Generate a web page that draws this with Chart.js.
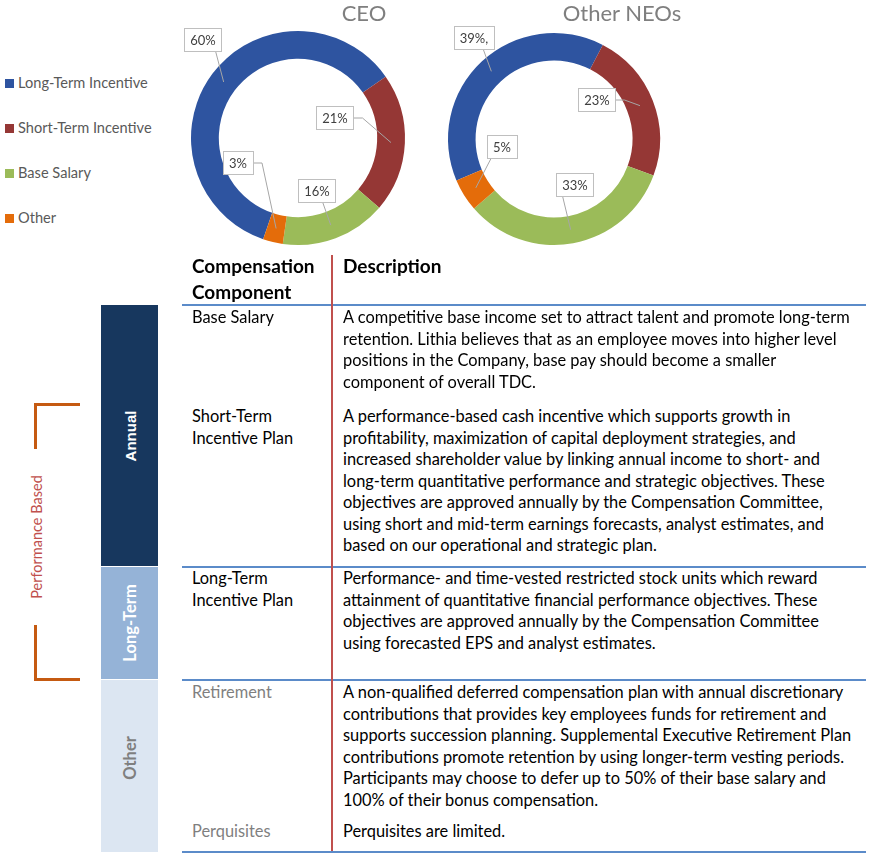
<!DOCTYPE html>
<html>
<head>
<meta charset="utf-8">
<script src="https://cdn.jsdelivr.net/npm/chart.js@4.4.1/dist/chart.umd.min.js"></script>
<style>
  body { margin: 0; background: #fff; }
  #page { position: relative; width: 869px; height: 858px; overflow: hidden; font-family: Lato, 'Open Sans', sans-serif; color: #000; }
  .abs { position: absolute; }
  .title { font-size: 22px; color: #7f7f7f; white-space: nowrap; transform: translateX(-50%); line-height: 26px; }
  .legend-item { left: 5px; font-size: 14.6px; color: #595959; line-height: 18px; white-space: nowrap; }
  .legend-item span { display: inline-block; width: 9px; height: 9px; margin-right: 4px; vertical-align: 0px; }
  .txt { font-size: 16.4px; line-height: 21.5px; white-space: nowrap; }
  .hdr { font-size: 19px; font-weight: bold; line-height: 26px; white-space: nowrap; }
  .gray { color: #7f7f7f; }
  .hline { height: 2px; background: #5b8bc9; left: 182px; width: 684px; }
  .bar { left: 101px; width: 57px; }
  .vlabel { position: absolute; left: 50%; top: 50%; transform: translate(-50%, -50%) rotate(-90deg); white-space: nowrap; font-weight: bold; font-size: 16.5px; }
  .bracket { background: #c55a11; }
</style>
</head>
<body>
<div id="page">
  <canvas id="ceoChart" class="abs" width="260" height="260" style="left:168px;top:8px"></canvas>
  <canvas id="neoChart" class="abs" width="260" height="260" style="left:424px;top:9px"></canvas>
  <div class="abs title" style="left:364px;top:0px">CEO</div>
  <div class="abs title" style="left:622px;top:0px">Other NEOs</div>
  <div id="legend"></div>
  <div id="table"></div>
</div>
<script>
// chart data
const categories = ['Long-Term Incentive', 'Short-Term Incentive', 'Base Salary', 'Other'];
const colors = ['#2e54a0', '#953735', '#9bbb59', '#e46c0a'];
const ceoValues = [60, 21, 16, 3];
const neoValues = [39, 23, 33, 5];
const ceoLabels = ['60%', '21%', '16%', '3%'];
const neoLabels = ['39%,', '23%', '33%', '5%'];

// table text
const headerComponent = ['Compensation', 'Component'];
const headerDescription = 'Description';
const rowComponents = [
  ['Base Salary'],
  ['Short-Term', 'Incentive Plan'],
  ['Long-Term', 'Incentive Plan'],
  ['Retirement'],
  ['Perquisites'],
];
const rowDescriptions = [
  ['A competitive base income set to attract talent and promote long-term',
   'retention. Lithia believes that as an employee moves into higher level',
   'positions in the Company, base pay should become a smaller',
   'component of overall TDC.'],
  ['A performance-based cash incentive which supports growth in',
   'profitability, maximization of capital deployment strategies, and',
   'increased shareholder value by linking annual income to short- and',
   'long-term quantitative performance and strategic objectives. These',
   'objectives are approved annually by the Compensation Committee,',
   'using short and mid-term earnings forecasts, analyst estimates, and',
   'based on our operational and strategic plan.'],
  ['Performance- and time-vested restricted stock units which reward',
   'attainment of quantitative financial performance objectives. These',
   'objectives are approved annually by the Compensation Committee',
   'using forecasted EPS and analyst estimates.'],
  ['A non-qualified deferred compensation plan with annual discretionary',
   'contributions that provides key employees funds for retirement and',
   'supports succession planning. Supplemental Executive Retirement Plan',
   'contributions promote retention by using longer-term vesting periods.',
   'Participants may choose to defer up to 50% of their base salary and',
   '100% of their bonus compensation.'],
  ['Perquisites are limited.'],
];
const rowGray = [false, false, false, true, true];
const rowTops = [306, 405, 567, 681, 820];

const boxLabels = {
  id: 'boxLabels',
  afterDatasetsDraw(chart, args, opts) {
    const { ctx } = chart;
    const meta = chart.getDatasetMeta(0);
    ctx.save();
    ctx.font = '13px Lato, "Open Sans", sans-serif';
    ctx.textAlign = 'center';
    ctx.textBaseline = 'middle';
    meta.data.forEach((arc, i) => {
      const p = arc.tooltipPosition();
      const [ox, oy] = opts.offsets[i];
      const text = opts.texts[i];
      const w = Math.round(ctx.measureText(text).width + 12);
      const h = 23;
      const cx = Math.round(p.x + ox);
      const cy = Math.round(p.y + oy);
      const l = cx - w / 2;
      const r = cx + w / 2;
      const t = cy - h / 2;
      const b = cy + h / 2;

      ctx.strokeStyle = '#a6a6a6';
      ctx.lineWidth = 1;
      ctx.beginPath();
      if (p.y > b + 10 && p.x >= l - 15 && p.x <= r + 15) {
        ctx.moveTo(Math.min(Math.max(p.x - 8, l + 4), r - 4), b);
      } else if (p.x > r) {
        ctx.moveTo(r, cy);
        ctx.lineTo(r + 9, cy);
      } else {
        ctx.moveTo(l, cy);
        ctx.lineTo(l - 9, cy);
      }
      ctx.lineTo(p.x, p.y);
      ctx.stroke();

      ctx.fillStyle = '#fff';
      ctx.fillRect(l, t, w, h);
      ctx.strokeStyle = '#bfbfbf';
      ctx.strokeRect(Math.floor(l) + 0.5, Math.floor(t) + 0.5, w, h);
      ctx.fillStyle = '#404040';
      ctx.fillText(text, cx, cy + 1);
    });
    ctx.restore();
  },
};

const makeDonut = (id, values, texts, rotation, pad, offsets) => new Chart(document.getElementById(id), {
  type: 'doughnut',
  data: {
    labels: categories,
    datasets: [{ data: values, backgroundColor: colors, borderWidth: 0 }],
  },
  options: {
    responsive: false,
    animation: false,
    rotation,
    cutout: '74%',
    layout: { padding: pad },
    plugins: {
      legend: { display: false },
      tooltip: { enabled: false },
      boxLabels: { texts, offsets },
    },
  },
  plugins: [boxLabels],
});

makeDonut('ceoChart', ceoValues, ceoLabels, 199, 23, [[-21, -42], [-56, -25], [-14, -34], [-38, -65]]);
makeDonut('neoChart', neoValues, neoLabels, 247, 24, [[-17, -33], [-43, -6], [4, -45], [26, -41]]);

// legend
const legendTops = [74, 119, 164, 209];
document.getElementById('legend').innerHTML = categories
  .map((c, i) => `<div class="abs legend-item" style="top:${legendTops[i]}px"><span style="background:${colors[i]}"></span>${c}</div>`)
  .join('');

// table
let html = '';
html += `<div class="abs hdr" style="left:192px;top:253px">${headerComponent.join('<br>')}</div>`;
html += `<div class="abs hdr" style="left:343px;top:253px">${headerDescription}</div>`;
rowComponents.forEach((lines, i) => {
  const cls = rowGray[i] ? 'txt gray' : 'txt';
  html += `<div class="abs ${cls}" style="left:192px;top:${rowTops[i]}px">${lines.join('<br>')}</div>`;
  html += `<div class="abs txt" style="left:343px;top:${rowTops[i]}px">${rowDescriptions[i].join('<br>')}</div>`;
});
[304, 566, 679, 851].forEach(y => { html += `<div class="abs hline" style="top:${y}px"></div>`; });
html += '<div class="abs" style="left:331px;top:255px;width:2px;height:596px;background:#c0504d"></div>';

// side bars
html += '<div class="abs bar" style="top:305px;height:261px;background:#17375e"><div class="vlabel" style="color:#fff;font-size:15px;font-family:Arial, \'Liberation Sans\', sans-serif">Annual</div></div>';
html += '<div class="abs bar" style="top:567px;height:112px;background:#95b3d7"><div class="vlabel" style="color:#fff">Long-Term</div></div>';
html += '<div class="abs bar" style="top:680px;height:172px;background:#dce6f2"><div class="vlabel" style="color:#7f7f7f;margin-top:-8px">Other</div></div>';

// performance bracket
html += '<div class="abs bracket" style="left:34px;top:403px;width:46px;height:3px"></div>';
html += '<div class="abs bracket" style="left:34px;top:403px;width:3px;height:46px"></div>';
html += '<div class="abs bracket" style="left:34px;top:625px;width:3px;height:56px"></div>';
html += '<div class="abs bracket" style="left:34px;top:678px;width:46px;height:3px"></div>';
html += '<div class="abs" style="left:36px;top:537px;transform:translate(-50%,-50%) rotate(-90deg);white-space:nowrap;font-size:14.5px;color:#c0504d">Performance Based</div>';
document.getElementById('table').innerHTML = html;
</script>
</body>
</html>
